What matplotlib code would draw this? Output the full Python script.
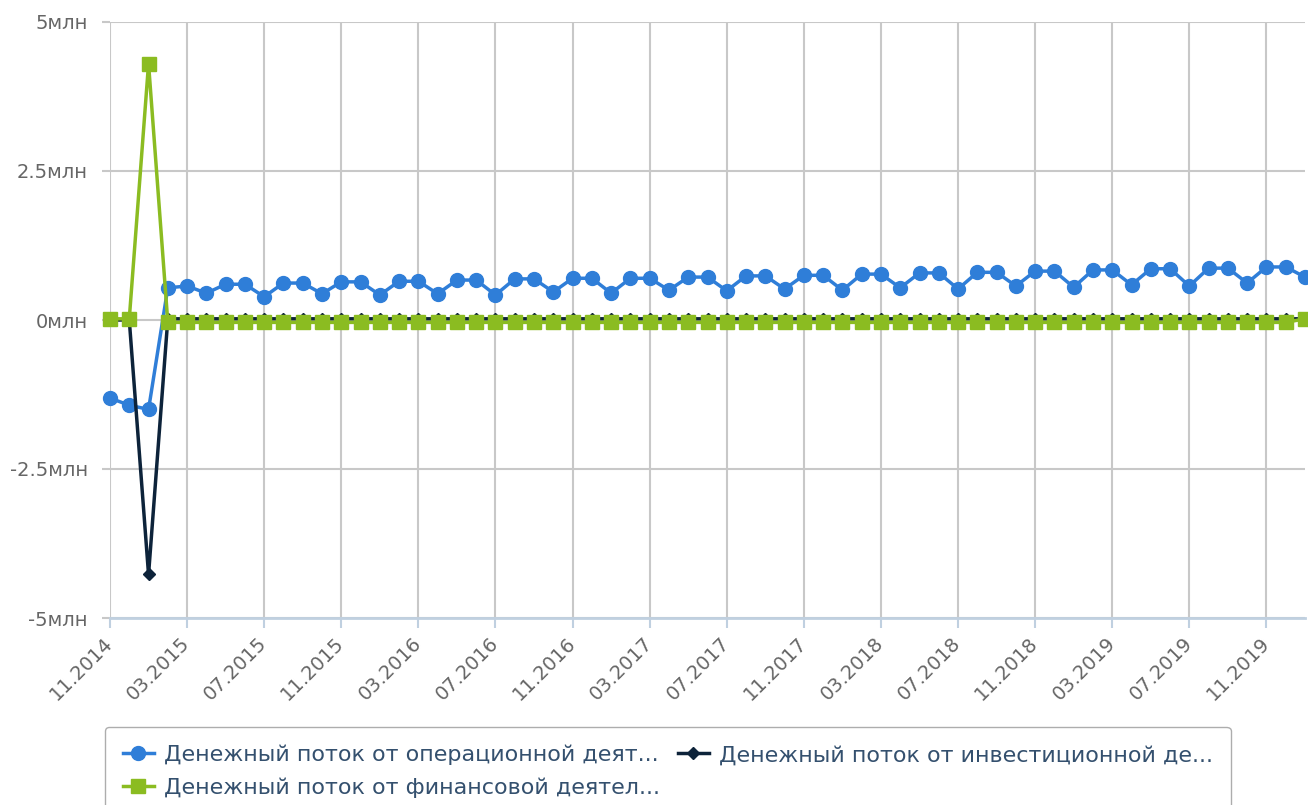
import matplotlib.pyplot as plt
import numpy as np
import pandas as pd

# months 11.2014 .. 01.2020
months = [p.strftime('%m.%Y') for p in pd.period_range('2014-11', '2020-01', freq='M')]

# values in millions
operating = [-1.31, -1.43, -1.50,
             0.54, 0.57, 0.45, 0.60, 0.60, 0.39, 0.62, 0.62, 0.44, 0.64, 0.64,
             0.42, 0.65, 0.65, 0.44, 0.67, 0.67, 0.42, 0.69, 0.69, 0.47, 0.70, 0.70,
             0.45, 0.70, 0.70, 0.50, 0.72, 0.72, 0.49, 0.74, 0.74, 0.52, 0.75, 0.75,
             0.50, 0.77, 0.77, 0.54, 0.79, 0.79, 0.52, 0.80, 0.80, 0.57, 0.82, 0.82,
             0.55, 0.84, 0.84, 0.59, 0.86, 0.86, 0.57, 0.87, 0.87, 0.62, 0.89, 0.89,
             0.72]
investing = [0.0, 0.0, -4.27,
             0.02, 0.02, 0.02, 0.02, 0.02, 0.02, 0.02, 0.02, 0.02, 0.02, 0.02,
             0.02, 0.02, 0.02, 0.02, 0.02, 0.02, 0.02, 0.02, 0.02, 0.02, 0.02, 0.02,
             0.02, 0.02, 0.02, 0.02, 0.02, 0.02, 0.02, 0.02, 0.02, 0.02, 0.02, 0.02,
             0.02, 0.02, 0.02, 0.02, 0.02, 0.02, 0.02, 0.02, 0.02, 0.02, 0.02, 0.02,
             0.02, 0.02, 0.02, 0.02, 0.02, 0.02, 0.02, 0.02, 0.02, 0.02, 0.02, 0.02,
             0.02]
financing = [0.02, 0.02, 4.30,
             -0.04, -0.04, -0.04, -0.04, -0.04, -0.04, -0.04, -0.04, -0.04, -0.04, -0.04,
             -0.04, -0.04, -0.04, -0.04, -0.04, -0.04, -0.04, -0.04, -0.04, -0.04, -0.04, -0.04,
             -0.04, -0.04, -0.04, -0.04, -0.04, -0.04, -0.04, -0.04, -0.04, -0.04, -0.04, -0.04,
             -0.04, -0.04, -0.04, -0.04, -0.04, -0.04, -0.04, -0.04, -0.04, -0.04, -0.04, -0.04,
             -0.04, -0.04, -0.04, -0.04, -0.04, -0.04, -0.04, -0.04, -0.04, -0.04, -0.04, -0.04,
             0.02]

labels = ['Денежный поток от операционной деят...',
          'Денежный поток от инвестиционной де...',
          'Денежный поток от финансовой деятел...']
yticks = [-5, -2.5, 0, 2.5, 5]
ytick_labels = ['-5млн', '-2.5млн', '0млн', '2.5млн', '5млн']

x = np.arange(len(months))

fig = plt.figure(figsize=(13.08, 8.05), dpi=100)
ax = fig.add_axes([110/1308, 187/805, 1195/1308, 596/805])

l1, = ax.plot(x, operating, color='#2f7ed8', lw=2.5, marker='o', ms=10, clip_on=False, zorder=3)
l2, = ax.plot(x, investing, color='#0d233a', lw=2.5, marker='D', ms=6, clip_on=False, zorder=4)
l3, = ax.plot(x, financing, color='#8bbc21', lw=2.5, marker='s', ms=10, clip_on=False, zorder=5)

ax.set_xlim(0, len(months) - 1)
ax.set_ylim(-5, 5)
ax.set_yticks(yticks)
ax.set_yticklabels(ytick_labels)
ax.set_xticks(x[::4])
ax.set_xticklabels(months[::4], rotation=45, ha='right', va='center', rotation_mode='anchor')

ax.grid(True, color='#c8c8c8', lw=1.5)
ax.set_axisbelow(True)
for s in ['top', 'right', 'left']:
    ax.spines[s].set_visible(False)
ax.spines['bottom'].set_color('#c0d0e0')
ax.spines['bottom'].set_linewidth(2)
ax.spines['bottom'].set_zorder(2)
ax.tick_params(axis='y', length=6, width=1.5, color='#c8c8c8', pad=10, labelsize=14, labelcolor='#666666')
ax.tick_params(axis='x', length=7, width=1.5, color='#c0d0e0', pad=9, labelsize=14, labelcolor='#666666')

leg = fig.legend([l1, l3, l2], [labels[0], labels[2], labels[1]], ncol=2,
                 loc='upper left', bbox_to_anchor=(105/1308, 1 - 727/805),
                 fontsize=16, frameon=True, fancybox=True, edgecolor='#999999',
                 handlelength=1.4, handletextpad=0.45, columnspacing=0.8,
                 labelspacing=0.55, borderpad=0.8, borderaxespad=0)
for t in leg.get_texts():
    t.set_color('#34506e')

plt.savefig('out.png', dpi=100)
